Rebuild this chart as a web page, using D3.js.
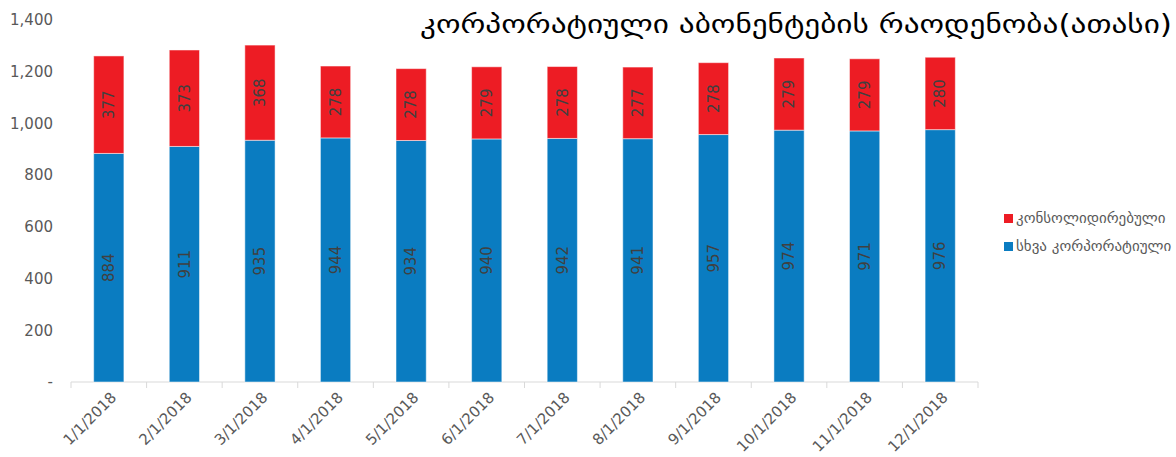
<!DOCTYPE html>
<html>
<head>
<meta charset="utf-8">
<script src="https://cdn.jsdelivr.net/npm/d3@7"></script>
<style>
  body { margin: 0; background: #fff; }
  svg, svg text { font-family: "DejaVu Sans", sans-serif; }
</style>
</head>
<body>
<div id="chart"></div>
<script>
// data
var months = ["1/1/2018","2/1/2018","3/1/2018","4/1/2018","5/1/2018","6/1/2018",
              "7/1/2018","8/1/2018","9/1/2018","10/1/2018","11/1/2018","12/1/2018"];
var other = [884, 911, 935, 944, 934, 940, 942, 941, 957, 974, 971, 976];
var consolidated = [377, 373, 368, 278, 278, 279, 278, 277, 278, 279, 279, 280];
var yTicks = [0, 200, 400, 600, 800, 1000, 1200, 1400];
var seriesNames = ["კონსოლიდირებული", "სხვა კორპორატიული"];
var title = "კორპორატიული აბონენტების რაოდენობა(ათასი)";

var W = 1176, H = 457;
var margin = {top: 20, right: 198, bottom: 75, left: 71},
    width = W - margin.left - margin.right,
    height = H - margin.top - margin.bottom;

var blue = "#0a7cc1", red = "#ed1c24";
var font = "DejaVu Sans, sans-serif";

var svg = d3.select("#chart").append("svg")
    .attr("width", W).attr("height", H);

var g = svg.append("g")
    .attr("transform", "translate(" + margin.left + "," + margin.top + ")");

var x = d3.scaleBand().domain(months).range([0, width]).paddingInner(0.6).paddingOuter(0.3);
var y = d3.scaleLinear().domain([0, 1400]).range([height, 0]);

// y axis labels, no line
var yAxis = d3.axisLeft(y).tickValues(yTicks).tickSize(0)
    .tickFormat(function(d) { return d === 0 ? "-" : d3.format(",")(d); });
g.append("g").call(yAxis)
  .attr("font-family", font)
  .attr("font-size", 15)
  .call(function(s) { s.select(".domain").remove(); })
  .selectAll("text")
    .attr("x", -18)
    .attr("fill", "#595959");

// x axis
var step = x.step();
var xg = g.append("g").attr("transform", "translate(0," + height + ")")
    .attr("font-family", font).attr("font-size", 15);
xg.append("line").attr("x1", 0).attr("x2", width).attr("stroke", "#d9d9d9");
var tickPos = d3.range(months.length + 1).map(function(i) { return i * step; });
xg.selectAll("line.tk").data(tickPos).enter().append("line")
    .attr("class", "tk")
    .attr("x1", function(d) { return d; }).attr("x2", function(d) { return d; })
    .attr("y1", 0).attr("y2", 6).attr("stroke", "#d9d9d9");
xg.selectAll("text").data(months).enter().append("text")
    .attr("transform", function(d) {
      return "translate(" + (x(d) + x.bandwidth() / 2 + 1) + ",9) rotate(-45)";
    })
    .attr("text-anchor", "end")
    .attr("dy", "0.7em")
    .attr("fill", "#595959")
    .text(function(d) { return d; });

// stacked bars
var bw = x.bandwidth();
g.selectAll("rect.other").data(months).enter().append("rect")
    .attr("class", "other")
    .attr("x", function(d) { return x(d); })
    .attr("width", bw)
    .attr("y", function(d, i) { return y(other[i]); })
    .attr("height", function(d, i) { return y(0) - y(other[i]); })
    .attr("fill", blue).attr("stroke", "#ffffff").attr("stroke-opacity", 0.5).attr("stroke-width", 1);
g.selectAll("rect.cons").data(months).enter().append("rect")
    .attr("class", "cons")
    .attr("x", function(d) { return x(d); })
    .attr("width", bw)
    .attr("y", function(d, i) { return y(other[i] + consolidated[i]); })
    .attr("height", function(d, i) { return y(other[i]) - y(other[i] + consolidated[i]); })
    .attr("fill", red).attr("stroke", "#ffffff").attr("stroke-opacity", 0.5).attr("stroke-width", 1);

// value labels, rotated
function addLabels(cls, vals, base) {
  g.selectAll("text." + cls).data(months).enter().append("text")
      .attr("class", cls)
      .attr("transform", function(d, i) {
        var cy = y(base[i] + vals[i] / 2);
        return "translate(" + (x(d) + bw / 2) + "," + cy + ") rotate(-90)";
      })
      .attr("text-anchor", "middle")
      .attr("dy", "0.35em")
      .attr("font-family", font)
      .attr("font-size", 15)
      .attr("fill", "#404040")
      .text(function(d, i) { return vals[i]; });
}
addLabels("lo", other, other.map(function() { return 0; }));
addLabels("hi", consolidated, other);

// legend
var legColors = [red, blue];
var leg = svg.append("g").attr("transform", "translate(1004,214)");
seriesNames.forEach(function(n, i) {
  leg.append("rect").attr("x", 0).attr("y", i * 28).attr("width", 9).attr("height", 9)
     .attr("fill", legColors[i]);
  leg.append("text").attr("x", 12).attr("y", i * 28 + 4).attr("dy", "0.35em")
     .attr("font-family", font).attr("font-size", 15)
     .attr("fill", "#595959").text(n);
});

// title
svg.append("text")
    .attr("x", 1172).attr("y", 33)
    .attr("text-anchor", "end")
    .attr("font-family", "DejaVu Sans Condensed, DejaVu Sans, sans-serif")
    .attr("font-size", 26)
    .attr("fill", "#000")
    .attr("textLength", 752).attr("lengthAdjust", "spacingAndGlyphs")
    .text(title);
</script>
</body>
</html>
